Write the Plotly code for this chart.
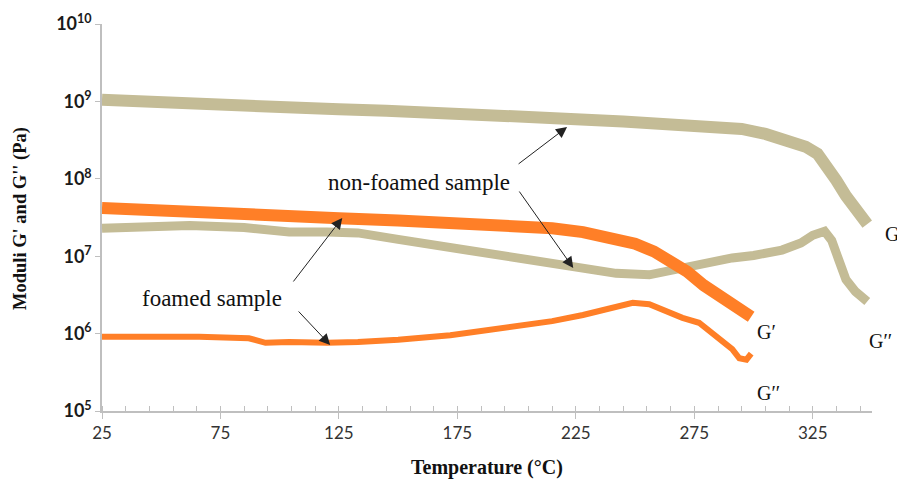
import plotly.graph_objects as go

# ---- data ----
nf_gp_T = [25, 45, 65, 85, 105, 125, 145, 165, 185, 205, 225, 245, 265, 280, 295, 305, 315, 322, 327, 331, 335, 339, 343, 348]
nf_gp = [1.05e9, 9.8e8, 9.1e8, 8.7e8, 8.2e8, 7.9e8, 7.6e8, 7.2e8, 7.1e8, 6.5e8, 5.9e8, 5.5e8, 5.1e8, 4.8e8, 4.4e8,
         3.8e8, 3.2e8, 2.6e8, 2.1e8, 1.5e8, 9.5e7, 6.0e7, 4.2e7, 2.6e7]

nf_gpp_T = [25, 45, 62, 85, 104, 120, 133, 150, 172, 190, 200, 215, 228, 242, 256, 270, 280, 291, 300, 312, 320, 325,
            330, 333, 336, 339, 343, 348]
nf_gpp = [2.3e7, 2.45e7, 2.5e7, 2.35e7, 2.05e7, 2.05e7, 2.0e7, 1.65e7, 1.3e7, 1.07e7, 9.5e6, 7.9e6, 7.1e6, 6.0e6,
          5.75e6, 7.1e6, 8.3e6, 9.5e6, 1.02e7, 1.2e7, 1.48e7, 1.86e7, 2.1e7, 1.6e7, 8.9e6, 5.0e6, 3.5e6, 2.6e6]

f_gp_T = [25, 45, 65, 85, 104, 125, 150, 172, 200, 215, 228, 240, 250, 258, 265, 272, 279, 286, 292, 299]
f_gp = [4.2e7, 3.9e7, 3.7e7, 3.55e7, 3.4e7, 3.1e7, 2.9e7, 2.75e7, 2.5e7, 2.3e7, 2.05e7, 1.78e7, 1.45e7, 1.15e7,
        8.7e6, 6.3e6, 4.2e6, 2.95e6, 2.15e6, 1.65e6]

f_gpp_T = [25, 45, 66, 87, 94, 104, 120, 133, 150, 172, 200, 215, 228, 242, 249, 256, 263, 270, 277, 284, 291, 294, 297, 299]
f_gpp = [9.1e5, 9.3e5, 9.1e5, 8.7e5, 7.6e5, 7.8e5, 7.6e5, 7.8e5, 8.3e5, 9.5e5, 1.23e6, 1.45e6, 1.74e6, 2.2e6, 2.5e6,
         2.4e6, 1.95e6, 1.6e6, 1.38e6, 9.1e5, 6.3e5, 4.8e5, 4.6e5, 5.5e5]

x_ticks = [25, 75, 125, 175, 225, 275, 325]
y_ticks = [1e5, 1e6, 1e7, 1e8, 1e9, 1e10]
y_ticktext = ["<b>10<sup>%d</sup></b>" % e for e in range(5, 11)]

TAN = "#C4BC96"
ORANGE = "#FF7F27"

fig = go.Figure()
fig.add_trace(go.Scatter(x=nf_gp_T, y=nf_gp, mode="lines", line=dict(color=TAN, width=12), showlegend=False))
fig.add_trace(go.Scatter(x=nf_gpp_T, y=nf_gpp, mode="lines", line=dict(color=TAN, width=9), showlegend=False))
fig.add_trace(go.Scatter(x=f_gp_T, y=f_gp, mode="lines", line=dict(color=ORANGE, width=12), showlegend=False))
fig.add_trace(go.Scatter(x=f_gpp_T, y=f_gpp, mode="lines", line=dict(color=ORANGE, width=6), showlegend=False))

serif = "Liberation Serif"
ann = []
# arrows (data coords; y in log10)
arrows = [
    ((200.2, 8.178), (221.3, 8.669)),
    ((200.7, 7.855), (223.9, 6.848)),
    ((105.3, 6.654), (126.4, 7.494)),
    ((107.4, 6.305), (121.3, 5.853)),
]
for (tx, ty), (hx, hy) in arrows:
    ann.append(dict(x=hx, y=hy, ax=tx, ay=ty, xref="x", yref="y", axref="x", ayref="y",
                    showarrow=True, arrowhead=2, arrowsize=2.2, arrowwidth=1, arrowcolor="#222", text=""))


def px2paper(px, py):
    return (px - 102) / 770.0, (411 - py) / 387.0


def label(text, px, py, size, xanchor="center", bold=False, color="#111", angle=0):
    xx, yy = px2paper(px, py)
    t = "<b>%s</b>" % text if bold else text
    ann.append(dict(x=xx, y=yy, xref="paper", yref="paper", text=t, showarrow=False, xanchor=xanchor,
                    yanchor="middle", textangle=angle, font=dict(family=serif, size=size, color=color)))


label("non-foamed sample", 419, 183, 23)
label("foamed sample", 212, 298, 23)
label("G′", 755, 332, 20, xanchor="left")
label("G′′", 755, 393, 20, xanchor="left")
label("G′", 883, 234, 20, xanchor="left")
label("G′′", 867, 341, 20, xanchor="left")
label("Moduli G' and G'' (Pa)", 20, 219, 18.5, bold=True, angle=-90)
label("Temperature (°C)", 487, 467, 20, bold=True)

fig.update_layout(
    width=897, height=481,
    margin=dict(l=102, r=25, t=24, b=70),
    paper_bgcolor="white", plot_bgcolor="white",
    annotations=ann,
    xaxis=dict(range=[25, 350], tickmode="array", tickvals=x_ticks, showgrid=False, zeroline=False,
               showline=True, linecolor="#BFBFBF", linewidth=1.5, ticks="outside", ticklen=6,
               tickcolor="#BFBFBF", tickwidth=1.2,
               tickfont=dict(family="Lato", size=17, color="#333"),
               minor=dict(tick0=25, dtick=10, ticks="inside", ticklen=5, tickcolor="#BFBFBF", tickwidth=1.2)),
    yaxis=dict(type="log", range=[5, 10], tickmode="array", tickvals=y_ticks, ticktext=y_ticktext,
               showgrid=False, zeroline=False, showline=True, linecolor="#BFBFBF", linewidth=1.5,
               ticks="outside", ticklen=5, tickcolor="#BFBFBF", tickwidth=1.2,
               tickfont=dict(family="Lato", size=18, color="#1a1a1a")),
)

fig.write_html("out.html")
